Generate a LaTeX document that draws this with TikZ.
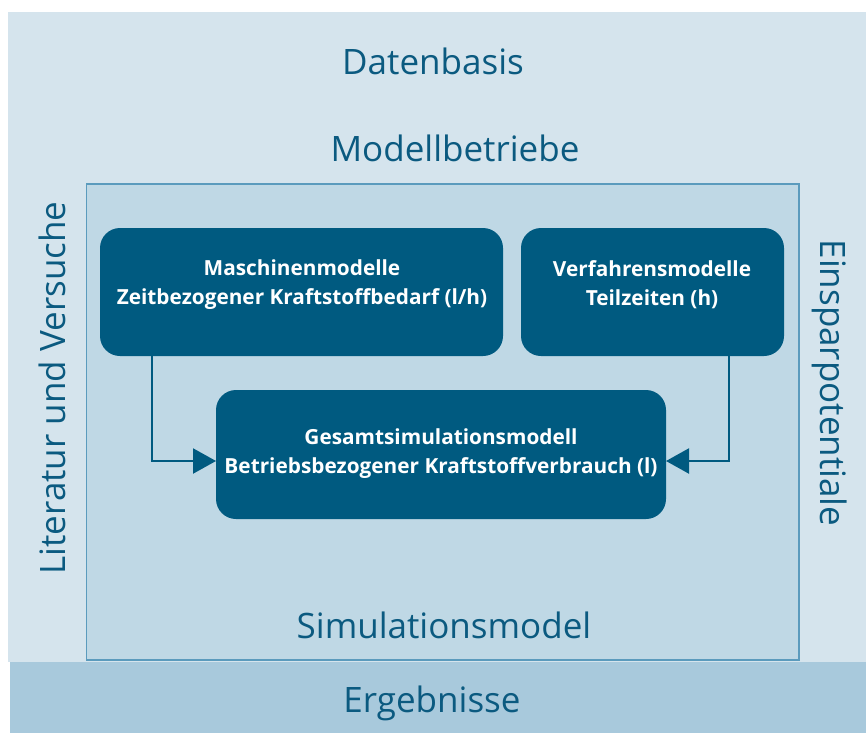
\documentclass[tikz,border=0pt]{standalone}
\usepackage{fontspec}
\setmainfont{Open Sans}
\usetikzlibrary{arrows.meta}
\definecolor{bglight}{HTML}{D5E4ED}
\definecolor{bginner}{HTML}{BFD8E5}
\definecolor{bgbottom}{HTML}{A8C9DC}
\definecolor{frame}{HTML}{5B9BBD}
\definecolor{boxblue}{HTML}{005A80}
\definecolor{txtblue}{HTML}{0B5A80}
\tikzset{
  title/.style={text=txtblue, font=\fontsize{35}{40}\selectfont, inner sep=0pt, anchor=base},
  mbox/.style={fill=boxblue, rounded corners=20pt, draw=none},
  btext/.style={text=white, font=\bfseries\fontsize{20.8}{29}\selectfont, align=center, inner sep=0pt},
  arr/.style={draw=boxblue, line width=2.2pt, -{Triangle[length=23pt,width=25pt]}}
}
\begin{document}
\begin{tikzpicture}[x=1pt,y=-1pt]
\useasboundingbox (0,0) rectangle (866,733);
\fill[white] (0,0) rectangle (866,733);
\fill[bglight] (8,12) rectangle (866,662);
\fill[bgbottom] (10,662) rectangle (866,733);
\filldraw[fill=bginner, draw=frame, line width=1.5pt] (86.5,184) rectangle (799,660);
\node[title] (db) at (433,75) {Datenbasis};
\node[title] (mb) at (455,161) {Modellbetriebe};
\node[title] (sm) at (444,638) {Simulationsmodel};
\node[title] (er) at (432,712) {Ergebnisse};
\node[title, anchor=center, rotate=90] (lv) at (52,388) {Literatur und Versuche};
\node[title, anchor=center, rotate=-90] (ep) at (830,383) {Einsparpotentiale};
\path[mbox] (100,228) rectangle (503,356);
\path[mbox] (521,228) rectangle (784,356);
\path[mbox] (216,390) rectangle (666,519);
\node[btext] (mt) at (302,285) {Maschinenmodelle\\Zeitbezogener Kraftstoffbedarf (l/h)};
\node[btext] (vt) at (652,285) {Verfahrensmodelle\\Teilzeiten (h)};
\node[btext] (gt) at (441,454) {Gesamtsimulationsmodell\\Betriebsbezogener Kraftstoffverbrauch (l)};
\coordinate (a1) at (152,356);
\coordinate (g1) at (216,461);
\coordinate (a2) at (729,356);
\coordinate (g2) at (666,461);
\draw[arr] (a1) |- (g1);
\draw[arr] (a2) |- (g2);
\end{tikzpicture}
\end{document}
